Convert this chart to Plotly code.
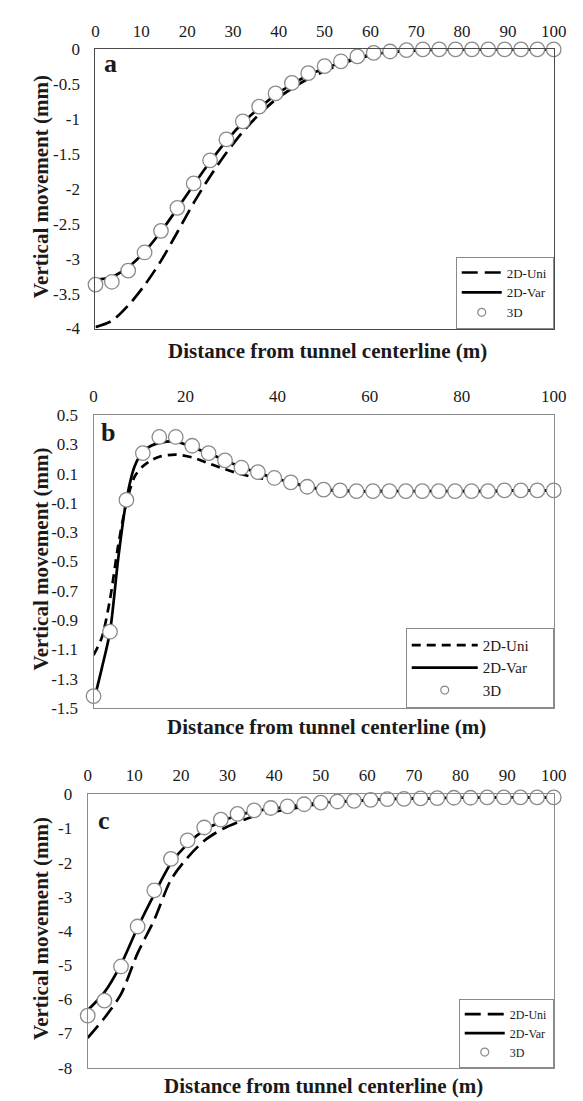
import plotly.graph_objects as go

W, H = 583, 1101

# ---------------- data ----------------
x_grid = [0, 3.57, 7.14, 10.71, 14.29, 17.86, 21.43, 25, 28.57, 32.14, 35.71, 39.29, 42.86, 46.43,
          50, 53.57, 57.14, 60.71, 64.29, 67.86, 71.43, 75, 78.57, 82.14, 85.71, 89.29, 92.86, 96.43, 100]

# panel a
a_3d = [-3.37, -3.33, -3.17, -2.91, -2.60, -2.27, -1.92, -1.59, -1.29, -1.03, -0.82, -0.63, -0.48, -0.34,
        -0.24, -0.17, -0.10, -0.05, -0.03, -0.01, 0, 0, 0, 0, 0, 0, 0, 0, 0]
a_var = [-3.30, -3.26, -3.12, -2.90, -2.61, -2.28, -1.94, -1.61, -1.31, -1.05, -0.84, -0.65, -0.50, -0.37,
         -0.27, -0.19, -0.12, -0.07, -0.04, -0.02, -0.01, 0, 0, 0, 0, 0, 0, 0, 0]
a_uni = [-3.98, -3.89, -3.67, -3.38, -3.03, -2.62, -2.20, -1.82, -1.48, -1.18, -0.93, -0.72, -0.56, -0.42,
         -0.31, -0.21, -0.13, -0.08, -0.04, -0.02, -0.01, 0, 0, 0, 0, 0, 0, 0, 0]

# panel b
b_3d = [-1.42, -0.98, -0.08, 0.24, 0.35, 0.35, 0.29, 0.24, 0.19, 0.14, 0.11, 0.07, 0.04, 0.01,
        -0.01, -0.015, -0.02, -0.02, -0.02, -0.02, -0.02, -0.02, -0.02, -0.02, -0.02, -0.015, -0.015, -0.015, -0.015]
x_b_line = [0, 1.79, 3.57, 5.36, 7.14, 8.93, 10.71, 12.5, 14.29, 17.86, 21.43, 25, 28.57, 32.14, 35.71,
            39.29, 42.86, 46.43, 50, 57.14, 64.29, 71.43, 78.57, 85.71, 92.86, 100]
b_var = [-1.46, -1.23, -0.98, -0.48, -0.08, 0.15, 0.25, 0.29, 0.31, 0.32, 0.28, 0.24, 0.19, 0.145, 0.105,
         0.07, 0.04, 0.012, -0.008, -0.02, -0.02, -0.02, -0.02, -0.02, -0.015, -0.015]
b_uni = [-1.14, -1.02, -0.76, -0.39, -0.10, 0.08, 0.15, 0.19, 0.215, 0.23, 0.21, 0.17, 0.13, 0.095, 0.07,
         0.055, 0.035, 0.01, -0.01, -0.02, -0.02, -0.02, -0.02, -0.02, -0.015, -0.015]

# panel c
c_3d = [-6.48, -6.04, -5.04, -3.87, -2.81, -1.89, -1.35, -0.97, -0.74, -0.57, -0.47, -0.40, -0.35, -0.29,
        -0.24, -0.21, -0.19, -0.16, -0.14, -0.13, -0.12, -0.11, -0.10, -0.10, -0.09, -0.09, -0.09, -0.09, -0.09]
c_var = [-6.32, -5.80, -4.98, -3.90, -2.92, -2.02, -1.45, -1.05, -0.80, -0.62, -0.50, -0.42, -0.36, -0.30,
         -0.25, -0.21, -0.19, -0.16, -0.14, -0.13, -0.12, -0.11, -0.10, -0.10, -0.09, -0.09, -0.09, -0.09, -0.09]
c_uni = [-7.13, -6.55, -5.85, -4.65, -3.67, -2.50, -1.85, -1.36, -1.04, -0.82, -0.64, -0.52, -0.45, -0.35,
         -0.27, -0.22, -0.19, -0.16, -0.14, -0.13, -0.12, -0.11, -0.10, -0.10, -0.09, -0.09, -0.09, -0.09, -0.09]

# ticks
a_xticks = [0, 10, 20, 30, 40, 50, 60, 70, 80, 90, 100]
a_yticks = [0, -0.5, -1, -1.5, -2, -2.5, -3, -3.5, -4]
a_ylabels = ["0", "-0.5", "-1", "-1.5", "-2", "-2.5", "-3", "-3.5", "-4"]
b_xticks = [0, 20, 40, 60, 80, 100]
b_yticks = [0.5, 0.3, 0.1, -0.1, -0.3, -0.5, -0.7, -0.9, -1.1, -1.3, -1.5]
b_ylabels = ["0.5", "0.3", "0.1", "-0.1", "-0.3", "-0.5", "-0.7", "-0.9", "-1.1", "-1.3", "-1.5"]
c_xticks = [0, 10, 20, 30, 40, 50, 60, 70, 80, 90, 100]
c_yticks = [0, -1, -2, -3, -4, -5, -6, -7, -8]
c_ylabels = ["0", "-1", "-2", "-3", "-4", "-5", "-6", "-7", "-8"]

names = ["2D-Uni", "2D-Var", "3D"]
x_title = "Distance from tunnel centerline (m)"
y_title = "Vertical movement (mm)"
panel_labels = ["a", "b", "c"]

# ---------------- layout helpers ----------------
FONT = "Liberation Serif"


def px(x):
    return x / W


def py(y):
    return 1 - y / H


panels = [
    dict(l=86, r=558, t=33, b=317, xl=x_grid, uni=a_uni, var=a_var, d3=a_3d, yr=[-4, 0],
         xt=a_xticks, yt=a_yticks, yl=a_ylabels, dash="16px,7px", lc="#4a4a4a",
         title_y=340, lab=(101, 47), leg_font=13, tick=17, iw=40, pad=""),
    dict(l=84, r=558, t=405, b=703, xl=x_b_line, uni=b_uni, var=b_var, d3=b_3d, yr=[-1.5, 0.5],
         xt=b_xticks, yt=b_yticks, yl=b_ylabels, dash="9px,6px", lc="#8c8c8c",
         title_y=722, lab=(99, 423), leg_font=15, tick=17, iw=66, pad="\u00a0\u00a0\u00a0\u00a0\u00a0"),
    dict(l=78, r=558, t=791, b=1069, xl=x_grid, uni=c_uni, var=c_var, d3=c_3d, yr=[-8, 0],
         xt=c_xticks, yt=c_yticks, yl=c_ylabels, dash="16px,7px", lc="#8c8c8c",
         title_y=1088, lab=(95, 818), leg_font=12, tick=17, iw=40, pad=""),
]

fig = go.Figure()
layout = dict(width=W, height=H, margin=dict(l=0, r=0, t=0, b=0),
              paper_bgcolor="white", plot_bgcolor="white", showlegend=True,
              font=dict(family=FONT, color="#1a1a1a"))
annotations = []

for i, p in enumerate(panels):
    n = "" if i == 0 else str(i + 1)
    xa, ya = "x" + n, "y" + n
    leg = "legend" + n
    fig.add_trace(go.Scatter(x=p["xl"], y=p["uni"], mode="lines", name=names[0] + p["pad"], xaxis=xa, yaxis=ya,
                             legend=leg, line=dict(color="black", width=2.7, dash=p["dash"], shape="spline",
                                                   smoothing=0.8)))
    fig.add_trace(go.Scatter(x=p["xl"], y=p["var"], mode="lines", name=names[1] + p["pad"], xaxis=xa, yaxis=ya,
                             legend=leg, line=dict(color="black", width=2.7, shape="spline", smoothing=0.8)))
    fig.add_trace(go.Scatter(x=x_grid, y=p["d3"], mode="markers", name=names[2], xaxis=xa, yaxis=ya,
                             legend=leg, showlegend=False, cliponaxis=False,
                             marker=dict(symbol="circle", size=14.5, color="white",
                                         line=dict(color="#8a8a8a", width=1.3))))
    # legend proxy for the small 3D symbol
    fig.add_trace(go.Scatter(x=[None], y=[None], mode="markers", name=names[2] + p["pad"], xaxis=xa, yaxis=ya,
                             legend=leg, marker=dict(symbol="circle", size=8, color="white",
                                                     line=dict(color="#8a8a8a", width=1.2))))

    layout["xaxis" + n] = dict(domain=[px(p["l"]), px(p["r"])], anchor=ya, side="top", range=[0, 100],
                               tickvals=p["xt"], ticktext=[str(v) for v in p["xt"]], showgrid=False,
                               zeroline=False, showline=True, linecolor=p["lc"], linewidth=1.2, mirror=True,
                               ticks="", ticklabelstandoff=5, tickfont=dict(family=FONT, size=p["tick"]))
    layout["yaxis" + n] = dict(domain=[py(p["b"]), py(p["t"])], anchor=xa, range=p["yr"],
                               tickvals=p["yt"], ticktext=p["yl"], showgrid=False, zeroline=False,
                               showline=True, linecolor=p["lc"], linewidth=1.2, mirror=True, ticks="",
                               ticklabelstandoff=11, tickfont=dict(family=FONT, size=p["tick"]))
    layout[leg] = dict(x=px(p["r"]), y=py(p["b"]), xanchor="right", yanchor="bottom",
                       bgcolor="white", bordercolor="#8a8a8a", borderwidth=1, itemwidth=p["iw"],
                       font=dict(family=FONT, size=p["leg_font"], color="#1a1a1a"), tracegroupgap=0)

    annotations.append(dict(text=x_title, x=px((p["l"] + p["r"]) / 2 + 3), y=py(p["title_y"]),
                            xref="paper", yref="paper", showarrow=False, xanchor="center", yanchor="middle",
                            font=dict(family=FONT, size=21, weight="bold", color="#1a1a1a")))
    annotations.append(dict(text=y_title, x=px(30), y=py((p["t"] + p["b"]) / 2 - 2), xref="paper",
                            yref="paper", showarrow=False, textangle=-90, xanchor="center", yanchor="middle",
                            font=dict(family=FONT, size=21, weight="bold", color="#1a1a1a")))
    annotations.append(dict(text=panel_labels[i], x=px(p["lab"][0]), y=py(p["lab"][1]), xref="paper",
                            yref="paper", showarrow=False, xanchor="center", yanchor="middle",
                            font=dict(family=FONT, size=26, weight="bold", color="#1a1a1a")))

layout["annotations"] = annotations
fig.update_layout(**layout)
fig.write_html("out.html")
